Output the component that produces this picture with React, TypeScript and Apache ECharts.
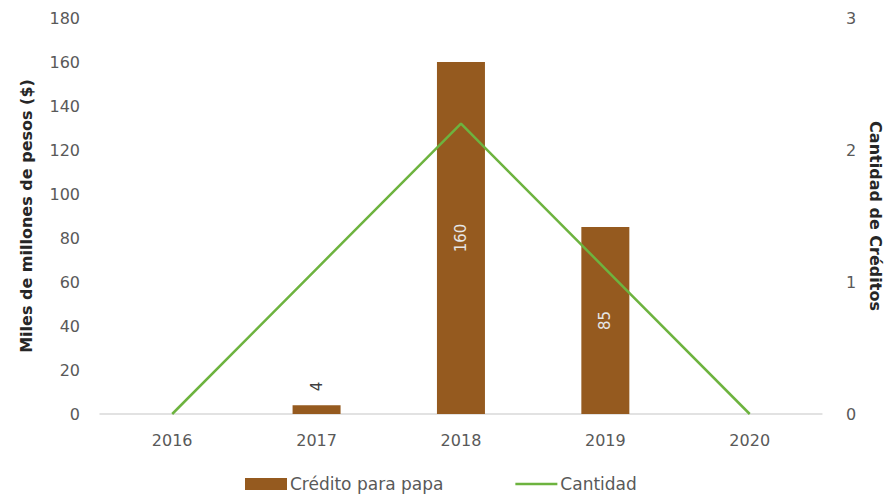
import React, { useEffect, useRef } from "react";
import * as echarts from "echarts";

const years = ["2016", "2017", "2018", "2019", "2020"];
const creditValues = [0, 4, 160, 85, 0];
const countValues = [0, 1.1, 2.2, 1.1, 0];
const leftTicks = { min: 0, max: 180, interval: 20 };
const rightTicks = { min: 0, max: 3, interval: 1 };

const FONT = "'DejaVu Sans', sans-serif";

export default function App() {
  const ref = useRef<HTMLDivElement>(null);
  useEffect(() => {
    if (!ref.current) return;
    const chart = echarts.init(ref.current, null, { renderer: "svg" });
    chart.setOption({
      animation: false,
      backgroundColor: "#ffffff",
      textStyle: { fontFamily: FONT },
      grid: { left: 100, right: 68, top: 18, bottom: 82 },
      legend: {
        top: 474,
        left: 245,
        padding: 0,
        itemWidth: 42,
        itemHeight: 12,
        itemGap: 72,
        textStyle: { color: "#595959", fontSize: 17, lineHeight: 20, fontFamily: FONT, padding: [0, 0, 0, -2] },
        data: [
          { name: "Crédito para papa", icon: "rect" },
          { name: "Cantidad", icon: "path://M0,0 L42,0 L42,2.5 L0,2.5 Z" },
        ],
      },
      xAxis: {
        type: "category",
        data: years,
        axisLine: { lineStyle: { color: "#d9d9d9", width: 1.5 } },
        axisTick: { show: false },
        axisLabel: { color: "#595959", fontSize: 16, margin: 18, fontFamily: FONT },
      },
      yAxis: [
        {
          type: "value",
          min: leftTicks.min,
          max: leftTicks.max,
          interval: leftTicks.interval,
          name: "Miles de millones de pesos ($)",
          nameLocation: "middle",
          nameGap: 66,
          nameTextStyle: { color: "#262626", fontSize: 16, fontWeight: "bold", fontFamily: FONT },
          axisLine: { show: false },
          axisTick: { show: false },
          splitLine: { show: false },
          axisLabel: { color: "#595959", fontSize: 16, margin: 20, fontFamily: FONT },
        },
        {
          type: "value",
          min: rightTicks.min,
          max: rightTicks.max,
          interval: rightTicks.interval,
          name: "Cantidad de Créditos",
          nameLocation: "middle",
          nameGap: 44,
          nameRotate: -90,
          nameTextStyle: { color: "#262626", fontSize: 16, fontWeight: "bold", fontFamily: FONT },
          axisLine: { show: false },
          axisTick: { show: false },
          splitLine: { show: false },
          axisLabel: { color: "#595959", fontSize: 16, margin: 24, fontFamily: FONT },
        },
      ],
      series: [
        {
          name: "Crédito para papa",
          type: "bar",
          yAxisIndex: 0,
          barWidth: 48,
          itemStyle: { color: "#955a1f" },
          data: creditValues.map((v) =>
            v < 10
              ? {
                  value: v,
                  label: {
                    position: "top",
                    color: "#404040",
                    align: "left",
                    verticalAlign: "middle",
                    distance: 14,
                  },
                }
              : { value: v }
          ),
          label: {
            show: true,
            position: "inside",
            rotate: 90,
            color: "#e6e6e6",
            fontSize: 15,
            fontFamily: FONT,
            formatter: (p: any) => (p.value ? String(p.value) : ""),
          },
        },
        {
          name: "Cantidad",
          type: "line",
          yAxisIndex: 1,
          data: countValues,
          symbol: "none",
          lineStyle: { color: "#6db33f", width: 2.5 },
          itemStyle: { color: "#6db33f" },
        },
      ],
    });
    return () => chart.dispose();
  }, []);
  return <div ref={ref} style={{ width: 891, height: 496, position: "absolute", left: 0, top: 0 }} />;
}
